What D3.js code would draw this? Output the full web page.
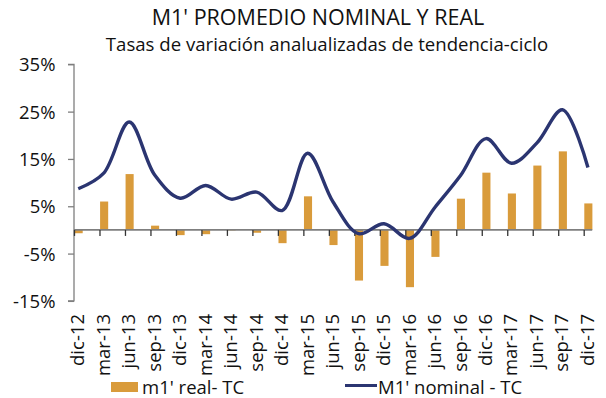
<!DOCTYPE html>
<html>
<head>
<meta charset="utf-8">
<script src="https://cdn.jsdelivr.net/npm/d3@7"></script>
<style>
  html, body { margin: 0; padding: 0; background: #fff; }
  svg { display: block; }
  text { font-family: "Open Sans", "Noto Sans", sans-serif; fill: #111; }
</style>
</head>
<body>
<svg id="chart" width="606" height="398"></svg>
<script>
// Quarterly categories
const categories = ["dic-12","mar-13","jun-13","sep-13","dic-13","mar-14","jun-14","sep-14","dic-14",
  "mar-15","jun-15","sep-15","dic-15","mar-16","jun-16","sep-16","dic-16","mar-17","jun-17","sep-17","dic-17"];

// M1' real - TC (%)
const realValues = [-0.7, 6.0, 11.8, 0.9, -1.1, -0.9, -0.1, -0.6, -2.8, 7.1, -3.2, -10.7, -7.6, -12.1,
  -5.7, 6.6, 12.1, 7.7, 13.6, 16.6, 5.6];

// M1' nominal - TC (%)
const nominalValues = [8.7, 12.0, 22.8, 11.6, 6.7, 9.4, 6.5, 8.0, 4.1, 16.2, 5.9, -0.8, 1.3, -1.8,
  4.8, 11.5, 19.3, 14.1, 18.4, 25.4, 13.2];

const yTicks = [-15, -5, 5, 15, 25, 35];

const title = "M1' PROMEDIO NOMINAL Y REAL";
const subtitle = "Tasas de variación analualizadas de tendencia-ciclo";
const legendLabels = ["m1' real- TC", "M1' nominal - TC"];

const barColor = "#D99B3B";
const lineColor = "#2B3571";
const axisColor = "#7f7f7f";
const labelSize = "18.5px";

const svg = d3.select("#chart");

const x = d3.scalePoint().domain(categories).range([74, 583.7]);
const step = x.step();
const y = d3.scaleLinear().domain([-15, 35]).range([300.9, 64.3]);

// Titles
svg.append("text").attr("x", 318).attr("y", 25).attr("text-anchor", "middle")
  .style("font-size", "21.5px").text(title);
svg.append("text").attr("x", 327).attr("y", 50.5).attr("text-anchor", "middle")
  .style("font-size", "18.6px").text(subtitle);

// Bars
svg.append("g").selectAll("rect").data(categories).join("rect")
  .attr("x", (d) => x(d) + 0.6)
  .attr("width", step / 3 - 0.4)
  .attr("y", (d, i) => y(Math.max(0, realValues[i])))
  .attr("height", (d, i) => Math.abs(y(realValues[i]) - y(0)))
  .attr("fill", barColor);

// Y axis
const yAxis = svg.append("g").attr("transform", "translate(74,0)")
  .call(d3.axisLeft(y).tickValues(yTicks).tickSize(6).tickFormat((d) => d + "%"));
yAxis.select(".domain").attr("stroke", axisColor).attr("stroke-width", 1.3)
  .attr("d", `M-6,${y(35)}H0V${y(-15)}H-6`);
yAxis.selectAll(".tick line").attr("stroke", axisColor).attr("stroke-width", 1.3);
yAxis.selectAll(".tick text").attr("x", -18.5).attr("dy", "0.35em")
  .style("font-size", labelSize).style("font-family", "'Open Sans', sans-serif").attr("fill", "#111");

// Category axis along zero
const xAxis = svg.append("g").attr("transform", `translate(0,${y(0)})`)
  .call(d3.axisBottom(x).tickSize(6).tickFormat(""));
xAxis.select(".domain").attr("stroke", axisColor).attr("stroke-width", 1.6)
  .attr("d", `M74,0H${x(categories[categories.length - 1]) + step / 3}`);
xAxis.selectAll(".tick line").attr("stroke", "#333").attr("stroke-width", 1.3);

// Category labels, rotated
svg.append("g").selectAll("text").data(categories).join("text")
  .attr("transform", (d) => `translate(${x(d) + step / 6 + 6},314) rotate(-90)`)
  .attr("text-anchor", "end")
  .style("font-size", labelSize)
  .text((d) => d);

// Nominal line
const line = d3.line()
  .x((d, i) => x(categories[i]) + step / 6)
  .y((d) => y(d))
  .curve(d3.curveCatmullRom.alpha(0.5));
svg.append("path").datum(nominalValues)
  .attr("d", line)
  .attr("fill", "none")
  .attr("stroke", lineColor)
  .attr("stroke-width", 3.4)
  .attr("stroke-linejoin", "round");

// Legend
const legend = svg.append("g");
legend.append("rect").attr("x", 111).attr("y", 382).attr("width", 27).attr("height", 10).attr("fill", barColor);
legend.append("text").attr("x", 142).attr("y", 393.5).style("font-size", labelSize).text(legendLabels[0]);
legend.append("line").attr("x1", 345).attr("x2", 377).attr("y1", 385.5).attr("y2", 385.5)
  .attr("stroke", lineColor).attr("stroke-width", 3);
legend.append("text").attr("x", 378).attr("y", 393.5).style("font-size", labelSize).text(legendLabels[1]);
</script>
</body>
</html>
